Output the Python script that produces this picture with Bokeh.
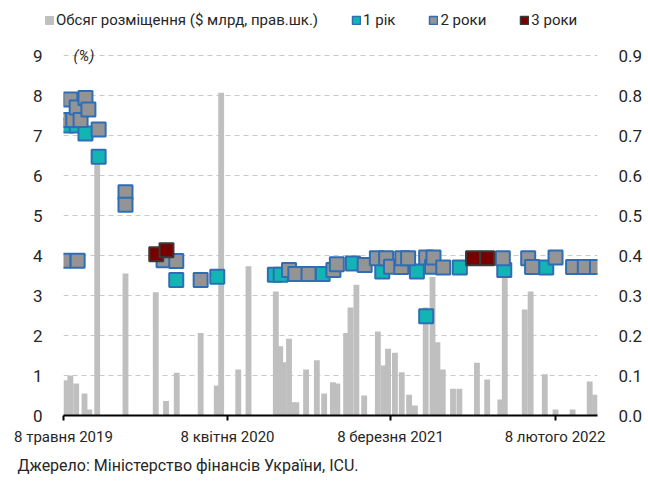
import pandas as pd
from bokeh.plotting import figure
from bokeh.layouts import column, row
from bokeh.models import (ColumnDataSource, Range1d, LinearAxis, FixedTicker,
                          Legend, LegendItem, Label, Title, NumeralTickFormatter)
from bokeh.embed import file_html
from bokeh.resources import INLINE

# ---------------- data ----------------
x_start = "2019-05-08"
x_end = "2022-05-06"

tick_dates = ["2019-05-08", "2020-04-08", "2021-03-08", "2022-02-08"]
tick_labels = ["8 травня 2019", "8 квітня 2020", "8 березня 2021", "8 лютого 2022"]

vol_dates = ["2019-05-11", "2019-05-22", "2019-06-03", "2019-06-20", "2019-06-30",
             "2019-07-16", "2019-09-12", "2019-11-13", "2019-12-04", "2019-12-26",
             "2020-02-13", "2020-03-17", "2020-03-26", "2020-04-30", "2020-05-21",
             "2020-07-16", "2020-07-25", "2020-07-31", "2020-08-12", "2020-08-20",
             "2020-08-27", "2020-09-16", "2020-10-08", "2020-10-23", "2020-11-10",
             "2020-11-19", "2020-12-07", "2020-12-16", "2020-12-28", "2021-01-13",
             "2021-02-10", "2021-02-22", "2021-03-03", "2021-03-17", "2021-03-31",
             "2021-04-15", "2021-04-27", "2021-05-19", "2021-06-02", "2021-06-12",
             "2021-06-23", "2021-07-14", "2021-07-27", "2021-09-01", "2021-09-22",
             "2021-10-19", "2021-10-28", "2021-12-08", "2021-12-20", "2022-01-18",
             "2022-02-09", "2022-03-16", "2022-04-20", "2022-05-01"]
vol_values = [0.088, 0.10, 0.08, 0.055, 0.015,
              0.65, 0.355, 0.308, 0.036, 0.107,
              0.206, 0.075, 0.807, 0.115, 0.373,
              0.31, 0.173, 0.133, 0.192, 0.033,
              0.033, 0.115, 0.138, 0.055, 0.083,
              0.08, 0.206, 0.27, 0.327, 0.05,
              0.21, 0.125, 0.167, 0.157, 0.108,
              0.052, 0.025, 0.27, 0.346, 0.183,
              0.115, 0.067, 0.067, 0.132, 0.09,
              0.04, 0.37, 0.265, 0.31, 0.103,
              0.015, 0.015, 0.085, 0.052]

y1_dates = ["2019-05-14", "2019-06-04", "2019-06-22", "2019-07-19", "2019-12-25",
            "2020-03-18", "2020-07-14", "2020-07-26", "2020-10-20", "2020-12-21",
            "2021-02-19", "2021-05-01", "2021-05-20", "2021-07-28", "2021-10-27",
            "2022-01-21"]
y1_values = [7.25, 7.25, 7.05, 6.47, 3.39,
             3.47, 3.52, 3.52, 3.54, 3.8,
             3.6, 3.6, 2.48, 3.7, 3.64,
             3.7]

y2_dates = ["2019-05-08", "2019-05-22", "2019-05-28", "2019-06-04", "2019-06-12",
            "2019-06-22", "2019-06-28", "2019-07-19", "2019-09-12", "2019-09-12",
            "2019-05-08", "2019-06-06", "2019-11-29", "2019-12-25", "2020-02-13",
            "2020-08-12", "2020-08-25", "2020-09-21", "2020-11-11", "2020-11-18",
            "2021-01-14", "2021-02-08", "2021-02-27", "2021-03-09", "2021-03-30",
            "2021-04-01", "2021-04-13", "2021-05-20", "2021-06-01", "2021-06-04",
            "2021-06-24", "2021-10-24", "2021-12-15", "2021-12-23", "2022-02-09",
            "2022-03-17", "2022-04-10", "2022-05-05"]
y2_values = [7.39, 7.9, 7.39, 7.7, 7.39,
             7.94, 7.65, 7.15, 5.58, 5.27,
             3.87, 3.87, 3.88, 3.86, 3.39,
             3.64, 3.54, 3.54, 3.64, 3.78,
             3.76, 3.93, 3.93, 3.72, 3.71,
             3.93, 3.93, 3.95, 3.72, 3.95,
             3.7, 3.93, 3.93, 3.71, 3.95,
             3.71, 3.71, 3.71]

y3_dates = ["2019-11-14", "2019-12-05", "2021-08-24", "2021-09-22"]
y3_values = [4.03, 4.13, 3.93, 3.93]

legend_labels = ["Обсяг розміщення ($ млрд, прав.шк.)", "1 рік", "2 роки", "3 роки"]
pct_label = "(%)"
source_text = "Джерело: Міністерство фінансів України, ICU."

# ---------------- styles ----------------
FONT = "Roboto"
TXT = "#262626"
BAR = "#BFBFBF"
TEAL = "#12B5B3"
GRAY = "#949494"
BLUE = "#2F6DB5"
RED = "#7A0000"
DARK = "#3A3A3A"
DAY_MS = 86400000
Y_TOP = 9.3          # a little head-room above the 9 grid line for the "(%)" label


def ms(s):
    return pd.Timestamp(s).value // 10**6


def src(dates, vals):
    return ColumnDataSource(dict(x=[ms(d) for d in dates], y=vals))


# ---------------- legend strip ----------------
lf = figure(width=632, height=36, x_axis_type=None, y_axis_type=None,
            x_range=Range1d(0, 1), y_range=Range1d(0, 1),
            min_border_left=0, min_border_right=0, min_border_top=0, min_border_bottom=0,
            output_backend="svg", toolbar_location=None)
lf.outline_line_color = None
lf.background_fill_color = "white"
lf.border_fill_color = "white"

# proxy renderers for the legend keys (their single quad lies outside the visible range)
off = dict(left=[5], right=[6], top=[6], bottom=[5])
lg0 = lf.quad(source=ColumnDataSource(dict(off)), fill_color=BAR, line_color=BAR, line_width=1)
lg1 = lf.quad(source=ColumnDataSource(dict(off)), fill_color=TEAL, line_color=BLUE, line_width=1.5)
lg2 = lf.quad(source=ColumnDataSource(dict(off)), fill_color=GRAY, line_color=BLUE, line_width=1.5)
lg3 = lf.quad(source=ColumnDataSource(dict(off)), fill_color=RED, line_color=DARK, line_width=1.5)

legend = Legend(items=[LegendItem(label=legend_labels[0], renderers=[lg0]),
                       LegendItem(label=legend_labels[1], renderers=[lg1]),
                       LegendItem(label=legend_labels[2], renderers=[lg2]),
                       LegendItem(label=legend_labels[3], renderers=[lg3])],
                orientation="horizontal", location=(44, 7),
                glyph_width=10, glyph_height=10, label_standoff=2, spacing=33,
                padding=0, margin=0, border_line_color=None, background_fill_alpha=0,
                label_text_font=FONT, label_text_font_size="15px", label_text_color=TXT)
lf.add_layout(legend)

# ---------------- main chart ----------------
p = figure(frame_width=534, frame_height=372,
           min_border_left=63, min_border_right=35,
           min_border_top=7, min_border_bottom=63,
           x_range=Range1d(ms(x_start), ms(x_end)), y_range=Range1d(0, Y_TOP),
           output_backend="svg", toolbar_location=None)
p.outline_line_color = None
p.background_fill_color = "white"
p.border_fill_color = "white"
p.extra_y_ranges = {"vol": Range1d(0, Y_TOP / 10)}

# x axis
xa = p.xaxis[0]
tick_ms = [ms(d) for d in tick_dates]
xa.ticker = FixedTicker(ticks=tick_ms)
xa.major_label_overrides = {int(t): l for t, l in zip(tick_ms, tick_labels)}
xa.axis_line_color = "black"
xa.axis_line_width = 2
xa.major_tick_line_color = "black"
xa.major_tick_line_width = 2
xa.major_tick_out = 5
xa.major_tick_in = 0
xa.minor_tick_line_color = None
xa.major_label_standoff = 7
xa.major_label_text_font = FONT
xa.major_label_text_font_size = "15px"
xa.major_label_text_color = TXT
p.xgrid.visible = False

# left axis
ya = p.yaxis[0]
ya.ticker = FixedTicker(ticks=list(range(10)))
ya.axis_line_color = None
ya.major_tick_line_color = None
ya.minor_tick_line_color = None
ya.major_label_standoff = 15
ya.major_label_text_font = FONT
ya.major_label_text_font_size = "17px"
ya.major_label_text_color = TXT
p.ygrid.ticker = FixedTicker(ticks=list(range(1, 10)))
p.ygrid.grid_line_color = "#C5CBCB"
p.ygrid.grid_line_dash = "5 4"
p.ygrid.grid_line_width = 1

# right axis
ra = LinearAxis(y_range_name="vol",
                ticker=FixedTicker(ticks=[i / 10 for i in range(10)]),
                formatter=NumeralTickFormatter(format="0.0"))
ra.axis_line_color = None
ra.major_tick_line_color = None
ra.minor_tick_line_color = None
ra.major_label_standoff = 15
ra.major_label_text_font = FONT
ra.major_label_text_font_size = "17px"
ra.major_label_text_color = TXT
p.add_layout(ra, "right")

# bars (volume)
p.vbar(x="x", top="y", bottom=0, width=12 * DAY_MS, source=src(vol_dates, vol_values),
       y_range_name="vol", fill_color=BAR, line_color=None)

# markers
p.scatter("x", "y", source=src(y1_dates, y1_values), marker="square", size=14,
          fill_color=TEAL, line_color=BLUE, line_width=2)
p.scatter("x", "y", source=src(y2_dates, y2_values), marker="square", size=14,
          fill_color=GRAY, line_color=BLUE, line_width=2)
p.scatter("x", "y", source=src(y3_dates, y3_values), marker="square", size=14,
          fill_color=RED, line_color=DARK, line_width=2)

p.add_layout(Label(x=ms(x_start), y=9, x_offset=10, text=pct_label,
                   text_baseline="middle", text_font=FONT, text_font_size="15px",
                   text_font_style="italic", text_color=TXT))

p.add_layout(Title(text=source_text, align="left", offset=-46, standoff=10,
                   text_font=FONT, text_font_size="16px", text_font_style="normal",
                   text_color=TXT), "below")

layout = column(row(lf), p, spacing=0)
open("out.html", "w").write(file_html(layout, INLINE))
